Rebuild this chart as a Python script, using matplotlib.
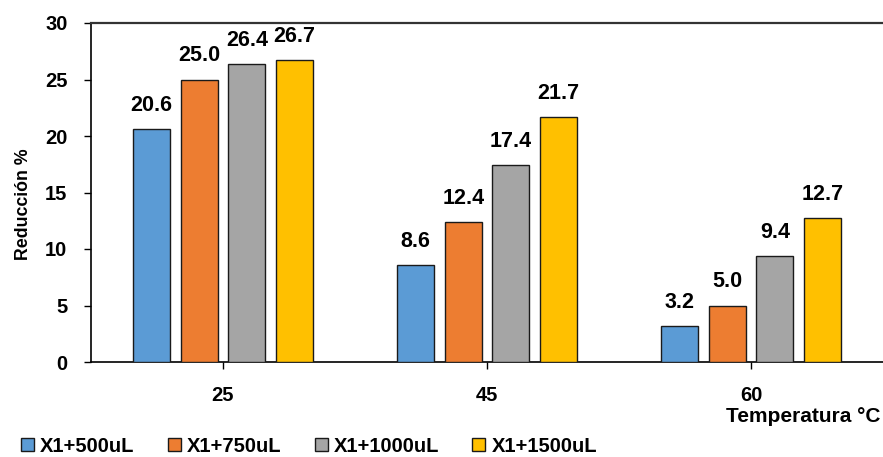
import matplotlib
matplotlib.use("Agg")
import matplotlib.pyplot as plt
import numpy as np

plt.rcParams['font.family'] = ['Liberation Sans', 'DejaVu Sans']
plt.rcParams['font.weight'] = 'bold'

categories = ["25", "45", "60"]
series_names = ["X1+500uL", "X1+750uL", "X1+1000uL", "X1+1500uL"]
v500 = [20.6, 8.6, 3.2]
v750 = [25.0, 12.4, 5.0]
v1000 = [26.4, 17.4, 9.4]
v1500 = [26.7, 21.7, 12.7]
y_ticks = [0, 5, 10, 15, 20, 25, 30]

colors = ["#5B9BD5", "#ED7D31", "#A5A5A5", "#FFC000"]
values = [v500, v750, v1000, v1500]

W, H = 883, 457
fig = plt.figure(figsize=(W / 100, H / 100), dpi=100)
ax = fig.add_axes([91 / W, 1 - 362 / H, 1 - 91 / W, (362 - 23) / H])

x = np.arange(len(categories))
width = 0.14
step = 0.18
for i, (vals, col, name) in enumerate(zip(values, colors, series_names)):
    pos = x + (i - 1.5) * step
    bars = ax.bar(pos, vals, width, color=col, edgecolor="#1a1a1a",
                  linewidth=1.0, label=name, zorder=3)
    for b, v in zip(bars, vals):
        ax.annotate(f"{v:.1f}", (b.get_x() + b.get_width() / 2, v),
                    xytext=(0, 13), textcoords="offset points",
                    ha="center", va="baseline", fontsize=15.5,
                    fontweight="bold")

ax.set_xlim(-0.5, 2.5)
ax.set_ylim(0, 30)
ax.set_yticks(y_ticks)
ax.set_xticks(x)
ax.set_xticklabels(categories)
ax.tick_params(axis="both", labelsize=14.5, width=1, color="black")
ax.tick_params(axis="y", length=5, pad=12)
ax.tick_params(axis="x", length=5, pad=12)
for lab in ax.get_xticklabels() + ax.get_yticklabels():
    lab.set_fontweight("bold")

ax.spines["right"].set_visible(False)
for s in ["left", "bottom"]:
    ax.spines[s].set_color("black")
    ax.spines[s].set_linewidth(1.2)
ax.spines["top"].set_color("#333333")
ax.spines["top"].set_linewidth(1.6)

fig.text(24 / W, 1 - 204 / H, "Reducción %", rotation=90, ha="center",
         va="center", fontsize=12.8, fontweight="bold")
fig.text(880 / W, 1 - 416 / H, "Temperatura °C", ha="right", va="center",
         fontsize=15, fontweight="bold")

fig.legend(loc="center left", bbox_to_anchor=(21 / W, 1 - 446 / H), ncol=4,
           frameon=False, fontsize=14.5, handlelength=0.65, handleheight=0.65,
           handletextpad=0.3, columnspacing=1.65, borderaxespad=0.0,
           borderpad=0.0)

fig.savefig("out.png", dpi=100)
